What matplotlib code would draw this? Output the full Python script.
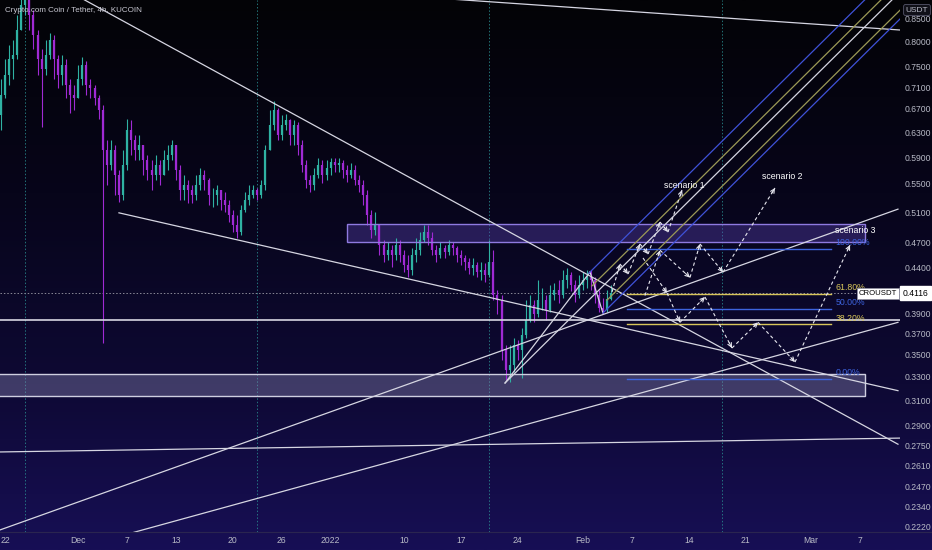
import numpy as np
import matplotlib
matplotlib.use("Agg")
import matplotlib.pyplot as plt
from matplotlib.colors import LinearSegmentedColormap
from matplotlib.patches import Rectangle

# time axis: days since 2021-11-22 00:00; 12h candles
candle_start = -0.5
candle_step = 0.5
first_open = 0.660

closes = [0.695, 0.733, 0.765, 0.773, 0.826, 0.882, 0.906, 0.859, 0.815, 0.765,
          0.745, 0.773, 0.805, 0.765, 0.733, 0.753, 0.714, 0.695, 0.690, 0.726,
          0.753, 0.714, 0.708, 0.690, 0.668, 0.601, 0.578, 0.601, 0.563, 0.534,
          0.578, 0.634, 0.617, 0.601, 0.609, 0.585, 0.570, 0.563, 0.578, 0.563,
          0.585, 0.593, 0.609, 0.570, 0.541, 0.548, 0.541, 0.534, 0.548, 0.563,
          0.555, 0.534, 0.534, 0.541, 0.527, 0.520, 0.506, 0.493, 0.484, 0.513,
          0.527, 0.534, 0.541, 0.534, 0.548, 0.601, 0.642, 0.668, 0.625, 0.642,
          0.651, 0.625, 0.642, 0.609, 0.578, 0.555, 0.548, 0.563, 0.578, 0.563,
          0.573, 0.582, 0.578, 0.580, 0.570, 0.563, 0.570, 0.555, 0.548, 0.534,
          0.506, 0.486, 0.493, 0.468, 0.455, 0.461, 0.455, 0.468, 0.455, 0.443,
          0.438, 0.455, 0.461, 0.474, 0.484, 0.476, 0.461, 0.455, 0.464, 0.459,
          0.468, 0.464, 0.455, 0.452, 0.447, 0.440, 0.443, 0.435, 0.438, 0.432,
          0.447, 0.410, 0.404, 0.354, 0.336, 0.340, 0.359, 0.354, 0.368, 0.383,
          0.399, 0.389, 0.404, 0.404, 0.394, 0.410, 0.415, 0.410, 0.426, 0.432,
          0.421, 0.410, 0.421, 0.426, 0.429, 0.426, 0.410, 0.396, 0.394, 0.405,
          0.4116]
highs = [0.726, 0.765, 0.793, 0.805, 0.859, 0.942, 0.968, 0.942, 0.870, 0.826,
         0.785, 0.805, 0.819, 0.815, 0.773, 0.773, 0.765, 0.726, 0.714, 0.753,
         0.768, 0.760, 0.726, 0.714, 0.695, 0.677, 0.617, 0.617, 0.609, 0.570,
         0.601, 0.653, 0.651, 0.625, 0.625, 0.609, 0.593, 0.585, 0.593, 0.585,
         0.601, 0.609, 0.617, 0.609, 0.578, 0.563, 0.555, 0.548, 0.563, 0.573,
         0.570, 0.558, 0.544, 0.548, 0.541, 0.538, 0.527, 0.513, 0.506, 0.520,
         0.538, 0.548, 0.548, 0.544, 0.555, 0.609, 0.668, 0.684, 0.672, 0.659,
         0.661, 0.653, 0.651, 0.647, 0.617, 0.585, 0.563, 0.573, 0.588, 0.585,
         0.585, 0.588, 0.588, 0.588, 0.585, 0.578, 0.580, 0.578, 0.563, 0.555,
         0.541, 0.513, 0.510, 0.493, 0.474, 0.471, 0.468, 0.476, 0.474, 0.461,
         0.455, 0.464, 0.476, 0.484, 0.493, 0.493, 0.484, 0.468, 0.471, 0.468,
         0.474, 0.471, 0.466, 0.461, 0.455, 0.452, 0.452, 0.447, 0.447, 0.446,
         0.474, 0.461, 0.415, 0.410, 0.359, 0.359, 0.366, 0.364, 0.375, 0.404,
         0.410, 0.404, 0.426, 0.417, 0.410, 0.421, 0.423, 0.426, 0.438, 0.440,
         0.435, 0.426, 0.432, 0.435, 0.438, 0.438, 0.429, 0.415, 0.406, 0.415,
         0.421]
lows = [0.634, 0.690, 0.714, 0.726, 0.765, 0.826, 0.859, 0.826, 0.785, 0.733,
        0.638, 0.733, 0.765, 0.726, 0.708, 0.714, 0.690, 0.663, 0.668, 0.690,
        0.714, 0.695, 0.690, 0.677, 0.653, 0.361, 0.548, 0.570, 0.534, 0.524,
        0.527, 0.570, 0.593, 0.585, 0.585, 0.563, 0.555, 0.541, 0.555, 0.548,
        0.563, 0.570, 0.585, 0.555, 0.527, 0.527, 0.522, 0.522, 0.527, 0.541,
        0.541, 0.520, 0.517, 0.520, 0.513, 0.510, 0.497, 0.484, 0.476, 0.480,
        0.510, 0.520, 0.529, 0.527, 0.529, 0.541, 0.601, 0.634, 0.617, 0.617,
        0.634, 0.609, 0.609, 0.593, 0.567, 0.544, 0.538, 0.541, 0.558, 0.551,
        0.555, 0.563, 0.567, 0.567, 0.558, 0.552, 0.558, 0.548, 0.538, 0.520,
        0.493, 0.476, 0.480, 0.455, 0.447, 0.449, 0.441, 0.449, 0.447, 0.435,
        0.430, 0.432, 0.447, 0.455, 0.471, 0.468, 0.455, 0.447, 0.452, 0.452,
        0.455, 0.455, 0.447, 0.443, 0.438, 0.433, 0.432, 0.429, 0.426, 0.424,
        0.429, 0.404, 0.389, 0.345, 0.327, 0.325, 0.334, 0.345, 0.329, 0.366,
        0.381, 0.381, 0.386, 0.394, 0.383, 0.392, 0.404, 0.401, 0.406, 0.417,
        0.414, 0.402, 0.406, 0.415, 0.417, 0.415, 0.401, 0.392, 0.390, 0.392,
        0.404]
last_price = 0.4116

# drawings, (day, price) end points
upper_fall = [(9.2, 0.900), (109.7, 0.276)]
lower_fall = [(14.0, 0.509), (109.7, 0.318)]
long_rise = [(-0.614, 0.220), (109.7, 0.514)]
low_rise = [(15.36, 0.218), (109.7, 0.381)]
flat_line = [(-0.614, 0.2704), (109.95, 0.2805)]
top_line = [(54.0, 0.897), (109.95, 0.8256)]
bounce_line = [(61.43, 0.3245), (71.87, 0.4352)]
pivot_line = [(71.87, 0.4352), (73.46, 0.3905)]
support_level = 0.383

channel_mid = [(61.43, 0.3245), (109.95, 0.913)]
channel_blue = [[(71.74, 0.434), (106.6, 0.913)], [(73.46, 0.3905), (109.95, 0.850)]]
channel_olive = [[(72.1, 0.4195), (108.6, 0.913)], [(73.95, 0.404), (109.95, 0.870)]]

supply_box = (42.0, 105.65, 0.4712, 0.4942)
demand_box = (-1.0, 105.65, 0.3135, 0.3323)

fib_days = (76.4, 101.5)
fib_labels = ["0.00%", "38.20%", "50.00%", "61.80%", "100.00%"]
fib_prices = [0.328, 0.3793, 0.3947, 0.4110, 0.4626]
fib_colors = ["#3d63dd", "#d8c65a", "#3d63dd", "#d8c65a", "#3d63dd"]

scenario1 = [(74.57, 0.4128), (75.55, 0.4446), (76.54, 0.433), (78.01, 0.4688),
             (79.0, 0.4565), (80.47, 0.4968), (81.45, 0.4838), (83.17, 0.5407)]
scenario2 = [(78.62, 0.409), (80.47, 0.461), (84.15, 0.429), (85.38, 0.4688),
             (88.21, 0.435), (94.59, 0.5436)]
scenario3 = [(78.38, 0.4517), (81.33, 0.4117), (82.92, 0.381), (85.99, 0.4074),
             (89.31, 0.356), (92.51, 0.381), (97.05, 0.343), (103.81, 0.4675)]
scenario_labels = [("scenario 1", 83.5, 0.5465), ("scenario 2", 95.45, 0.5597),
                   ("scenario 3", 104.4, 0.486)]

session_days = [2.46, 30.96, 59.46, 88.08]

x_ticks = [0, 9, 15, 21, 28, 34, 40, 49, 56, 63, 71, 77, 84, 91, 99, 105]
x_labels = ["22", "Dec", "7", "13", "20", "26", "2022", "10", "17", "24",
            "Feb", "7", "14", "21", "Mar", "7"]
y_ticks = [0.85, 0.80, 0.75, 0.71, 0.67, 0.63, 0.59, 0.55, 0.51, 0.47, 0.44,
           0.39, 0.37, 0.35, 0.33, 0.31, 0.29, 0.275, 0.261, 0.247, 0.234, 0.222]

LINE = "#d6d6e2"
TXT = "#b8bac6"
UP = "#2fb2a3"
DOWN = "#a02ad4"
FONT = "Liberation Sans"

fig = plt.figure(figsize=(9.32, 5.5), dpi=100)
bg = fig.add_axes([0, 0, 1, 1], zorder=-10)
cmap = LinearSegmentedColormap.from_list(
    "bg", [(0, "#030306"), (0.35, "#07051a"), (0.7, "#0e0934"), (1.0, "#170f55")])
bg.imshow(np.linspace(0, 1, 256).reshape(-1, 1), aspect="auto", cmap=cmap,
          extent=[0, 1, 1, 0])
bg.axis("off")

ax = fig.add_axes([0, 18 / 550, 900 / 932, 532 / 550])
ax.set_facecolor("none")
ax.set_yscale("log")
ax.set_xlim(-0.614, 109.95)
ax.set_ylim(0.2188, 0.8938)
for s in ax.spines.values():
    s.set_visible(False)

# candles
xs = candle_start + candle_step * np.arange(len(closes))
opens = [first_open] + closes[:-1]
cols = [UP if c >= o else DOWN for o, c in zip(opens, closes)]
ax.vlines(xs, lows, highs, colors=cols, lw=0.8, zorder=2)
ax.vlines(xs, np.minimum(opens, closes), np.maximum(opens, closes),
          colors=cols, lw=1.6, zorder=2)

# session separators and last price
for d in session_days:
    ax.axvline(d, color="#2a8f92", lw=0.7, ls=(0, (1.5, 2)), alpha=0.8, zorder=1)
ax.axhline(last_price, color="#8a8a98", lw=0.7, ls=(0, (1.5, 2)), zorder=1)

# zones
x0, x1, p0, p1 = supply_box
ax.add_patch(Rectangle((x0, p0), x1 - x0, p1 - p0, fc="#5a44b4", alpha=0.38,
                       ec="none", zorder=1))
ax.add_patch(Rectangle((x0, p0), x1 - x0, p1 - p0, fc="none", ec="#8f7ae0",
                       lw=1.0, zorder=3))
x0, x1, p0, p1 = demand_box
ax.add_patch(Rectangle((x0, p0), x1 - x0, p1 - p0, fc="#8a86b4", alpha=0.4,
                       ec="none", zorder=1))
ax.add_patch(Rectangle((x0, p0), x1 - x0, p1 - p0, fc="none", ec="#cfcfe0",
                       lw=1.0, zorder=3))

# trend lines
for seg in [upper_fall, lower_fall, long_rise, low_rise, flat_line, top_line,
            bounce_line, pivot_line, channel_mid]:
    (a, pa), (b, pb) = seg
    ax.plot([a, b], [pa, pb], color=LINE, lw=0.9, zorder=3)
ax.axhline(support_level, color=LINE, lw=1.2, zorder=3)
for seg in channel_blue:
    (a, pa), (b, pb) = seg
    ax.plot([a, b], [pa, pb], color="#3f52d8", lw=0.9, zorder=3)
for seg in channel_olive:
    (a, pa), (b, pb) = seg
    ax.plot([a, b], [pa, pb], color="#9c9a56", lw=0.9, zorder=3)

# fib retracement
for lab, p, c in zip(fib_labels, fib_prices, fib_colors):
    ax.plot(fib_days, [p, p], color=c, lw=1.0, zorder=3)
    ax.text(fib_days[1] + 0.5, p * 1.004, lab, color=c, fontsize=6.3,
            family=FONT, ha="left", va="bottom", zorder=4)


def dashed_path(pts):
    for (xa, ya), (xb, yb) in zip(pts[:-1], pts[1:]):
        ax.plot([xa, xb], [ya, yb], color="#e6e6ee", lw=0.8, ls=(0, (3, 2.5)),
                zorder=4)
        a = ax.transData.transform((xa, ya))
        b = ax.transData.transform((xb, yb))
        v = (b - a) / np.hypot(*(b - a))
        back = ax.transData.inverted().transform(b - v * 6)
        ax.annotate("", xy=(xb, yb), xytext=back,
                    arrowprops=dict(arrowstyle="->", color="#e6e6ee", lw=0.8,
                                    shrinkA=0, shrinkB=0, mutation_scale=7),
                    zorder=4)


for path in [scenario1, scenario2, scenario3]:
    dashed_path(path)
for lab, d, p in scenario_labels:
    ax.text(d, p, lab, color="white", fontsize=6.3, family=FONT,
            ha="center", va="center", zorder=5)

# axes
ax.yaxis.tick_right()
ax.set_yticks(y_ticks)
ax.set_yticklabels([f"{v:.4f}" for v in y_ticks], family=FONT)
ax.yaxis.set_minor_locator(matplotlib.ticker.NullLocator())
ax.set_xticks(x_ticks)
ax.set_xticklabels(x_labels, family=FONT)
ax.tick_params(axis="both", length=0, colors=TXT, labelsize=6.2)
ax.tick_params(axis="y", pad=3.5)
ax.tick_params(axis="x", pad=3)
fig.add_artist(plt.Line2D([0, 1], [18 / 550, 18 / 550], color="#2a2550", lw=0.8))

ax.text(1.003, last_price, f"{last_price:.4f}", transform=ax.get_yaxis_transform(),
        ha="left", va="center", fontsize=6.2, family=FONT, color="black", zorder=6,
        bbox=dict(boxstyle="square,pad=0.3", fc="white", ec="white"))
ax.text(0.997, last_price, "CROUSDT", transform=ax.get_yaxis_transform(),
        ha="right", va="center", fontsize=5.6, family=FONT, color="black", zorder=6,
        bbox=dict(boxstyle="square,pad=0.25", fc="white", ec="#9090a0", lw=0.6))
fig.text(917 / 932, 1 - 10 / 550, "USDT", ha="center", va="center", fontsize=6,
         family=FONT, color=TXT,
         bbox=dict(boxstyle="round,pad=0.25", fc="#101018", ec="#55556a", lw=0.6))
fig.text(5 / 932, 1 - 10 / 550, "Crypto.com Coin / Tether, 4h, KUCOIN",
         ha="left", va="center", fontsize=5.8, family=FONT, color="#c8c8d2")

fig.savefig("out.png", dpi=100)
